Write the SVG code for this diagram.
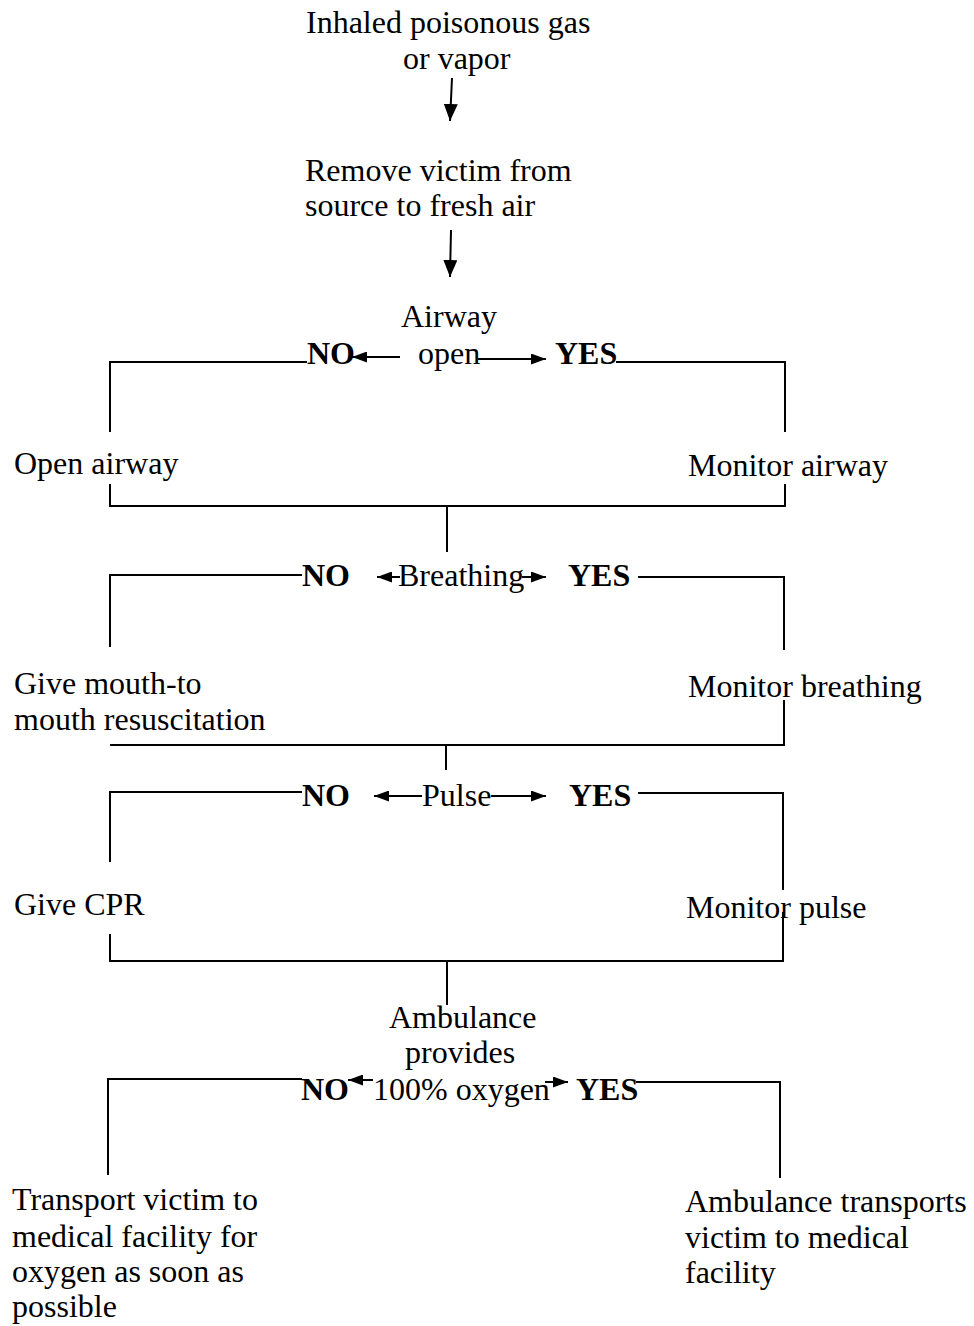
<svg xmlns="http://www.w3.org/2000/svg" width="974" height="1326" viewBox="0 0 974 1326">
<style>
text{font-family:"Liberation Serif","Times New Roman",serif;font-size:32px;fill:#000}
.b{font-weight:bold}
.ln{fill:none;stroke:#000;stroke-width:2}
.ar{fill:none;stroke:#000;stroke-width:2;marker-end:url(#ah)}
.av{fill:none;stroke:#000;stroke-width:2;marker-end:url(#ahv)}
</style>
<defs>
<marker id="ah" markerUnits="userSpaceOnUse" markerWidth="15" markerHeight="11" refX="15" refY="5.5" orient="auto">
<path d="M0,0 L15,5.5 L0,11 z" fill="#000"/>
</marker>
<marker id="ahv" markerUnits="userSpaceOnUse" markerWidth="17" markerHeight="14" refX="17" refY="7" orient="auto">
<path d="M0,0 L17,7 L0,14 z" fill="#000"/>
</marker>
</defs>
<rect width="974" height="1326" fill="#fff"/>

<g id="connectors">
<line class="av" x1="452" y1="78" x2="450" y2="121"/>
<line class="av" x1="451" y1="230" x2="450" y2="277"/>
<line class="ar" x1="400" y1="357" x2="352" y2="357"/>
<line class="ar" x1="478" y1="359" x2="546" y2="359"/>
<polyline class="ln" points="307,362 110,362 110,432"/>
<polyline class="ln" points="616,362 785,362 785,432"/>
<polyline class="ln" points="110,484 110,506 785,506 785,484"/>
<line class="ln" x1="447" y1="506" x2="447" y2="552"/>
<line class="ar" x1="400" y1="577" x2="377" y2="577"/>
<line class="ar" x1="522" y1="577" x2="546" y2="577"/>
<polyline class="ln" points="302,575 110,575 110,647"/>
<polyline class="ln" points="638,577 784,577 784,650"/>
<polyline class="ln" points="110,745 784,745 784,700"/>
<line class="ln" x1="446" y1="745" x2="446" y2="770"/>
<line class="ar" x1="422" y1="796" x2="374" y2="796"/>
<line class="ar" x1="491" y1="796" x2="546" y2="796"/>
<polyline class="ln" points="302,792 110,792 110,862"/>
<polyline class="ln" points="638,793 783,793 783,890"/>
<polyline class="ln" points="110,934 110,961 783,961 783,912"/>
<line class="ln" x1="447" y1="961" x2="447" y2="1005"/>
<line class="ar" x1="373" y1="1080" x2="348" y2="1080"/>
<line class="ar" x1="545" y1="1082" x2="568" y2="1082"/>
<polyline class="ln" points="302,1079 108,1079 108,1175"/>
<polyline class="ln" points="636,1082 780,1082 780,1178"/>
</g>

<g id="start">
<text x="306" y="33">Inhaled poisonous gas</text>
<text x="403" y="69">or vapor</text>
</g>
<g id="remove">
<text x="305" y="181">Remove victim from</text>
<text x="305" y="216">source to fresh air</text>
</g>
<g id="airway-open">
<text x="401" y="327">Airway</text>
<text x="418" y="364">open</text>
</g>
<g id="airway-no"><text class="b" x="307" y="364">NO</text></g>
<g id="airway-yes"><text class="b" x="555" y="364">YES</text></g>
<g id="open-airway"><text x="14" y="474">Open airway</text></g>
<g id="monitor-airway"><text x="688" y="476">Monitor airway</text></g>

<g id="breathing"><text x="398" y="586">Breathing</text></g>
<g id="breathing-no"><text class="b" x="302" y="586">NO</text></g>
<g id="breathing-yes"><text class="b" x="568" y="586">YES</text></g>
<g id="mouth-to-mouth">
<text x="14" y="694">Give mouth-to</text>
<text x="14" y="730">mouth resuscitation</text>
</g>
<g id="monitor-breathing"><text x="688" y="697">Monitor breathing</text></g>

<g id="pulse"><text x="422" y="806">Pulse</text></g>
<g id="pulse-no"><text class="b" x="302" y="806">NO</text></g>
<g id="pulse-yes"><text class="b" x="569" y="806">YES</text></g>
<g id="cpr"><text x="14" y="915">Give CPR</text></g>
<g id="monitor-pulse"><text x="686" y="918">Monitor pulse</text></g>

<g id="ambulance-oxygen">
<text x="389" y="1028">Ambulance</text>
<text x="405" y="1063">provides</text>
<text x="373" y="1100">100% oxygen</text>
</g>
<g id="oxygen-no"><text class="b" x="301" y="1100">NO</text></g>
<g id="oxygen-yes"><text class="b" x="576" y="1100">YES</text></g>
<g id="transport-victim">
<text x="12" y="1210">Transport victim to</text>
<text x="12" y="1247">medical facility for</text>
<text x="12" y="1282">oxygen as soon as</text>
<text x="12" y="1317">possible</text>
</g>
<g id="ambulance-transports">
<text x="685" y="1212">Ambulance transports</text>
<text x="685" y="1248">victim to medical</text>
<text x="685" y="1283">facility</text>
</g>
</svg>
